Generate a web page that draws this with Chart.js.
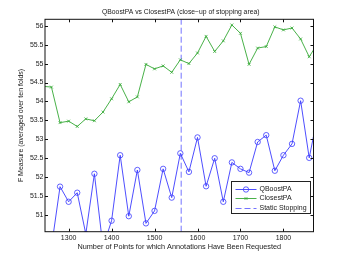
<!DOCTYPE html>
<html><head><meta charset="utf-8">
<script src="https://cdn.jsdelivr.net/npm/chart.js@4/dist/chart.umd.min.js"></script>
<style>html,body{margin:0;padding:0;background:#fff}</style>
</head><body>
<canvas id="c" width="346" height="260"></canvas>
<script>
const pointsRequested = [1240,1260,1280,1300,1320,1340,1360,1380,1400,1420,1440,1460,1480,1500,1520,1540,1560,1580,1600,1620,1640,1660,1680,1700,1720,1740,1760,1780,1800,1820,1840,1860,1880];
const qboostPA = [50.30,50.15,51.75,51.35,51.59,50.50,52.09,50.15,50.85,52.58,50.97,52.19,50.78,51.11,52.22,51.46,52.63,52.14,53.05,51.76,52.50,51.35,52.39,52.22,52.12,52.93,53.11,52.17,52.58,52.88,54.02,52.51,53.65];
const closestPA = [54.40,54.38,53.44,53.48,53.34,53.54,53.49,53.72,54.07,54.45,53.99,54.12,54.98,54.86,54.94,54.77,55.10,55.00,55.28,55.72,55.32,55.60,56.02,55.80,54.98,55.41,55.45,55.97,55.89,55.94,55.65,55.18,55.54];
const staticStopping = 1562;
const xTicks = [1300,1400,1500,1600,1700,1800];
const yTicks = [51,51.5,52,52.5,53,53.5,54,54.5,55,55.5,56];
const xRange = [1245, 1870];
const yRange = [50.56, 56.17];
const seriesNames = ['QBoostPA','ClosestPA','Static Stopping'];
const titleText = 'QBoostPA vs ClosestPA (close\u2212up of stopping area)';
const xTitle = 'Number of Points for which Annotations Have Been Requested';
const yTitle = 'F Measure (averaged over ten folds)';

const FONT = 'Liberation Sans, Arial, Helvetica, sans-serif';
const TXT = '#1a1a1a';

const boxTicks = {
  id: 'boxTicks',
  afterDatasetsDraw(chart) {
    const {ctx, chartArea: a, scales: {x, y}} = chart;
    ctx.save();
    ctx.strokeStyle = '#111';
    ctx.lineWidth = 1;
    ctx.beginPath();
    const L = 3;
    xTicks.forEach(v => {
      const px = Math.round(x.getPixelForValue(v)) + 0.5;
      ctx.moveTo(px, a.bottom); ctx.lineTo(px, a.bottom - L);
      ctx.moveTo(px, a.top); ctx.lineTo(px, a.top + L);
    });
    yTicks.forEach(v => {
      const py = Math.round(y.getPixelForValue(v)) + 0.5;
      ctx.moveTo(a.left, py); ctx.lineTo(a.left + L, py);
      ctx.moveTo(a.right, py); ctx.lineTo(a.right - L, py);
    });
    ctx.stroke();
    ctx.strokeRect(a.left, a.top, a.right - a.left, a.bottom - a.top);
    ctx.restore();
  },
  afterDraw(chart) {
    const {ctx, chartArea: a} = chart;
    ctx.save();
    // title
    ctx.font = '6.8px ' + FONT;
    ctx.fillStyle = TXT;
    ctx.textAlign = 'center';
    ctx.textBaseline = 'middle';
    ctx.fillText(titleText, (a.left + a.right) / 2 + 1.5, 12.2);
    // legend
    const w = 79, h = 32;
    const bx = a.right - 3.5 - w, by = a.bottom - 18.3 - h;
    ctx.fillStyle = '#fff';
    ctx.fillRect(bx, by, w, h);
    ctx.strokeStyle = '#222';
    ctx.lineWidth = 1;
    ctx.strokeRect(Math.round(bx) + 0.5, Math.round(by) + 0.5, w, h);
    ctx.font = '7px ' + FONT;
    ctx.textAlign = 'left';
    ctx.textBaseline = 'middle';
    const rows = [by + 7.5, by + 16.8, by + 26.5];
    chart.data.datasets.forEach((ds, i) => {
      const yy = Math.round(rows[i]) + 0.5;
      const x0 = bx + 4.5, x1 = bx + 25.5, xm = (x0 + x1) / 2;
      ctx.strokeStyle = ds.borderColor;
      ctx.lineWidth = ds.borderWidth;
      ctx.setLineDash(ds.borderDash || []);
      ctx.beginPath(); ctx.moveTo(x0, yy); ctx.lineTo(x1, yy); ctx.stroke();
      ctx.setLineDash([]);
      if (ds.pointRadius > 0) {
        ctx.fillStyle = 'rgba(0,0,0,0)';
        ctx.strokeStyle = ds.pointBorderColor;
        ctx.lineWidth = ds.pointBorderWidth;
        Chart.helpers.drawPoint(ctx, {pointStyle: ds.pointStyle, radius: ds.pointRadius, borderWidth: ds.pointBorderWidth, rotation: 0}, xm, yy);
      }
      ctx.fillStyle = TXT;
      ctx.fillText(ds.label, bx + 28.5, yy);
    });
    ctx.restore();
  }
};

const toXY = arr => pointsRequested.map((x, i) => ({x, y: arr[i]}));

new Chart(document.getElementById('c'), {
  type: 'line',
  data: {
    datasets: [
      {label: seriesNames[0], data: toXY(qboostPA), borderColor: '#3a3aff', borderWidth: 0.9,
       pointStyle: 'circle', pointRadius: 2.7, pointBorderWidth: 0.8, pointBorderColor: '#3a3aff',
       pointBackgroundColor: 'rgba(0,0,0,0)', backgroundColor: 'rgba(0,0,0,0)', tension: 0, clip: 0},
      {label: seriesNames[1], data: toXY(closestPA), borderColor: '#34a834', borderWidth: 0.9,
       pointStyle: 'crossRot', pointRadius: 2, pointBorderWidth: 0.8, pointBorderColor: '#34a834',
       pointBackgroundColor: 'rgba(0,0,0,0)', backgroundColor: 'rgba(0,0,0,0)', tension: 0, clip: 0},
      {label: seriesNames[2], data: [{x: staticStopping, y: yRange[0]}, {x: staticStopping, y: yRange[1]}],
       borderColor: '#7373ff', borderWidth: 1, borderDash: [6, 3], pointRadius: 0,
       backgroundColor: 'rgba(0,0,0,0)', tension: 0, clip: 0}
    ]
  },
  options: {
    responsive: false,
    animation: false,
    devicePixelRatio: 1,
    layout: {padding: {left: 0, right: 32.5, top: 19.3, bottom: 0}},
    plugins: {
      legend: {display: false},
      tooltip: {enabled: false},
      title: {display: false}
    },
    scales: {
      x: {type: 'linear', min: xRange[0], max: xRange[1],
        afterBuildTicks: s => { s.ticks = xTicks.map(v => ({value: v})); },
        afterFit: s => { s.height = 28.3; },
        ticks: {callback: v => String(v), color: TXT, font: {family: FONT, size: 7}, padding: 2, maxRotation: 0, autoSkip: false},
        grid: {display: false, drawTicks: false}, border: {display: false},
        title: {display: true, text: xTitle, color: TXT, font: {family: FONT, size: 7.3}, padding: {top: 0, bottom: 9}}
      },
      y: {type: 'linear', min: yRange[0], max: yRange[1],
        afterBuildTicks: s => { s.ticks = yTicks.map(v => ({value: v})); },
        afterFit: s => { s.width = 45; },
        ticks: {callback: v => String(v), color: TXT, font: {family: FONT, size: 7}, padding: 1.5, autoSkip: false},
        grid: {display: false, drawTicks: false}, border: {display: false},
        title: {display: true, text: yTitle, color: TXT, font: {family: FONT, size: 7}, padding: {top: 16.5, bottom: 0}}
      }
    }
  },
  plugins: [boxTicks]
});
</script>
</body></html>
